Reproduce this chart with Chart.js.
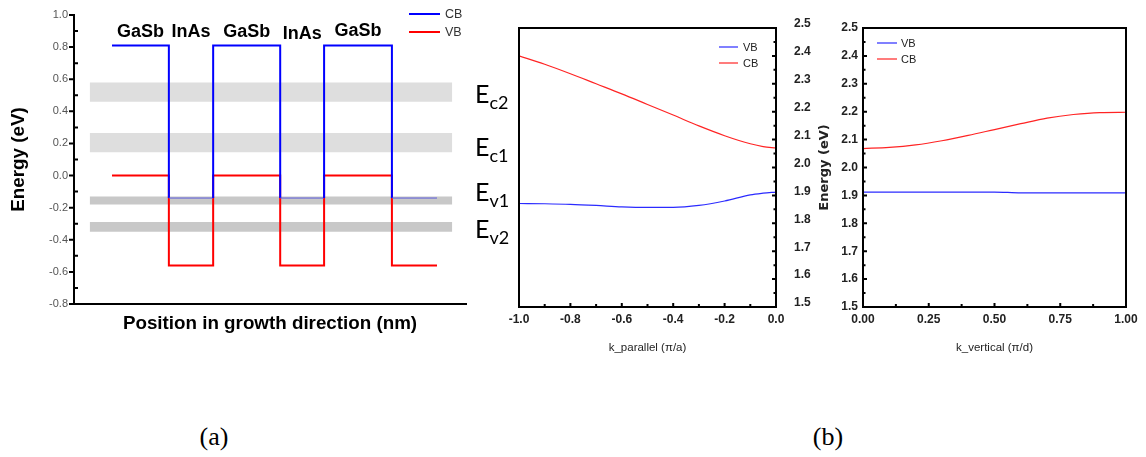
<!DOCTYPE html>
<html><head><meta charset="utf-8">
<script src="https://cdn.jsdelivr.net/npm/chart.js@4/dist/chart.umd.min.js"></script>
<style>
html,body{margin:0;padding:0;background:#fff}
body{width:1146px;height:457px;overflow:hidden;position:relative}
canvas{position:absolute;top:0}
#cA{left:0}
#cB1{left:470px}
#cB2{left:810px}
.plab{position:absolute;font-family:'Liberation Serif','Times New Roman',serif;font-size:26px;line-height:30px;color:#000;transform:translateX(-50%)}
</style></head><body>
<canvas id="cA" width="470" height="345"></canvas>
<canvas id="cB1" width="370" height="370"></canvas>
<canvas id="cB2" width="336" height="370"></canvas>
<div class="plab" style="left:214px;top:422px">(a)</div>
<div class="plab" style="left:828px;top:422px">(b)</div>
<script>
// ---------- data: panel (a) ----------
const layerLabels = ['GaSb','InAs','GaSb','InAs','GaSb',''];
const layerEdges  = [0.97, 2.42, 3.55, 5.26, 6.38, 8.11, 9.26];
const cbLevels    = [0.81, -0.14, 0.81, -0.14, 0.81, -0.14];
const vbLevels    = [0.0, -0.56, 0.0, -0.56, 0.0, -0.56];
const bandLow     = [0.46, 0.145, -0.18, -0.35];
const bandHigh    = [0.58, 0.265, -0.13, -0.29];
const bandExtent  = [0.4, 9.65];
const aYTicks     = [-0.8, -0.6, -0.4, -0.2, 0.0, 0.2, 0.4, 0.6, 0.8, 1.0];

// ---------- data: panel (b) left ----------
const kPar  = [-1.0, -0.9, -0.8, -0.7, -0.6, -0.5, -0.4, -0.3, -0.2, -0.1, -0.05, 0.0];
const vbPar = [1.871, 1.870, 1.868, 1.864, 1.859, 1.857, 1.857, 1.864, 1.880, 1.902, 1.908, 1.912];
const cbPar = [2.400, 2.370, 2.336, 2.300, 2.264, 2.226, 2.188, 2.149, 2.114, 2.085, 2.075, 2.070];
const kParTicks = [-1.0, -0.8, -0.6, -0.4, -0.2, 0.0];

// ---------- data: panel (b) right ----------
const kVer  = [0.0, 0.1, 0.2, 0.3, 0.4, 0.5, 0.6, 0.7, 0.8, 0.9, 1.0];
const vbVer = [1.912, 1.912, 1.912, 1.912, 1.912, 1.912, 1.909, 1.909, 1.909, 1.909, 1.909];
const cbVer = [2.068, 2.072, 2.081, 2.096, 2.115, 2.136, 2.157, 2.177, 2.190, 2.197, 2.198];
const kVerTicks = [0.0, 0.25, 0.5, 0.75, 1.0];
const eTicks = [1.5, 1.6, 1.7, 1.8, 1.9, 2.0, 2.1, 2.2, 2.3, 2.4, 2.5];
const levelNames = ['c2', 'c1', 'v1', 'v2'];

// ---------- styles ----------
const bandColors = ['#dedede', '#dedede', '#c8c8c8', '#c8c8c8'];
const SANS = "'Liberation Sans',Arial,sans-serif";

const mids = a => a.slice(1).map((v, i) => (v + a[i]) / 2);
const toXY = (xs, ys) => xs.map((x, i) => ({x, y: ys[i]}));
function steps(levels) {
  const pts = [];
  levels.forEach((v, i) => { pts.push({x: layerEdges[i], y: v}, {x: layerEdges[i + 1], y: v}); });
  return pts;
}
const setTicks = arr => s => { s.ticks = arr.map(v => ({value: v})); };

// ---------- plugins ----------
const axisDeco = {
  id: 'axisDeco',
  afterDatasetsDraw(chart, args, o) {
    const {ctx, chartArea: a, scales} = chart;
    ctx.save();
    ctx.strokeStyle = '#000';
    ctx.lineWidth = o.frameWidth || 2;
    ctx.lineCap = 'square';
    ctx.beginPath();
    (o.frame || []).forEach(s => {
      if (s === 'left')   { ctx.moveTo(a.left, a.top);  ctx.lineTo(a.left, a.bottom); }
      if (s === 'right')  { ctx.moveTo(a.right, a.top); ctx.lineTo(a.right, a.bottom); }
      if (s === 'top')    { ctx.moveTo(a.left, a.top);  ctx.lineTo(a.right, a.top); }
      if (s === 'bottom') { ctx.moveTo(a.left, a.bottom); ctx.lineTo(a.right, a.bottom); }
    });
    ctx.stroke();
    ctx.lineCap = 'butt';
    (o.ticks || []).forEach(t => {
      const sc = scales[t.scale];
      ctx.lineWidth = t.width || 1.5;
      ctx.beginPath();
      t.values.forEach(v => {
        const p = sc.getPixelForValue(v);
        if (t.edge === 'left')   { ctx.moveTo(a.left, p);  ctx.lineTo(a.left + t.dir * t.len, p); }
        if (t.edge === 'right')  { ctx.moveTo(a.right, p); ctx.lineTo(a.right - t.dir * t.len, p); }
        if (t.edge === 'bottom') { ctx.moveTo(p, a.bottom); ctx.lineTo(p, a.bottom - t.dir * t.len); }
      });
      ctx.stroke();
    });
    ctx.restore();
  }
};

const miniLegend = {
  id: 'miniLegend',
  afterDraw(chart, args, o) {
    if (!o.items) return;
    const {ctx} = chart;
    ctx.save();
    ctx.font = o.font;
    ctx.textBaseline = 'middle';
    o.items.forEach((di, i) => {
      const ds = chart.data.datasets[di];
      const y = o.y + i * o.dy;
      ctx.strokeStyle = ds.borderColor;
      ctx.lineWidth = o.lineWidth;
      ctx.beginPath(); ctx.moveTo(o.x, y); ctx.lineTo(o.x + o.len, y); ctx.stroke();
      ctx.fillStyle = o.color;
      ctx.fillText(ds.label, o.x + o.len + o.gap, y + 1);
    });
    ctx.restore();
  }
};

const layerText = {
  id: 'layerText',
  afterDraw(chart, args, o) {
    if (!o.show) return;
    const {ctx, scales} = chart;
    ctx.save();
    ctx.font = o.font; ctx.fillStyle = '#000';
    ctx.textAlign = 'center'; ctx.textBaseline = 'middle';
    layerLabels.forEach((t, i) => {
      if (!t) return;
      const x = scales.x.getPixelForValue((layerEdges[i] + layerEdges[i + 1]) / 2);
      ctx.fillText(t, x, o.y[i]);
    });
    ctx.restore();
  }
};

const levelText = {
  id: 'levelText',
  afterDraw(chart, args, o) {
    if (!o.show) return;
    const {ctx} = chart;
    ctx.save();
    ctx.fillStyle = '#000'; ctx.textBaseline = 'alphabetic';
    levelNames.forEach((n, i) => {
      ctx.font = o.bigFont;
      ctx.fillText('E', o.x, o.baselines[i]);
      const w = ctx.measureText('E').width;
      ctx.font = o.subFont;
      ctx.fillText(n, o.x + w, o.baselines[i] + o.subDrop);
    });
    ctx.restore();
  }
};

Chart.register(axisDeco, miniLegend, layerText, levelText);

const baseOptions = {
  responsive: false, maintainAspectRatio: false, animation: false,
  events: [],
  elements: {point: {radius: 0}}
};
const basePlugins = {legend: {display: false}, tooltip: {enabled: false}};

// ---------- panel (a) ----------
const aDatasets = [
  {label: 'CB', data: steps(cbLevels), borderColor: '#0000ff', borderWidth: 2, fill: false,
   segment: {
     borderColor: c => (c.p0.parsed.y === c.p1.parsed.y && c.p0.parsed.y < 0) ? '#5b5bdc' : undefined,
     borderWidth: c => (c.p0.parsed.y === c.p1.parsed.y && c.p0.parsed.y < 0) ? 1 : undefined
   }},
  {label: 'VB', data: steps(vbLevels), borderColor: '#ff0000', borderWidth: 2, fill: false}
];
bandLow.forEach((lo, i) => {
  aDatasets.push({
    label: 'band' + i,
    data: bandExtent.map(x => ({x, y: bandHigh[i]})),
    fill: {value: lo}, backgroundColor: bandColors[i],
    borderColor: 'rgba(0,0,0,0)', borderWidth: 0
  });
});

new Chart(document.getElementById('cA'), {
  type: 'line',
  data: {datasets: aDatasets},
  options: {
    ...baseOptions,
    layout: {padding: {left: 0, top: 15, right: 4, bottom: 0}},
    scales: {
      x: {type: 'linear', min: 0, max: 10,
          ticks: {display: false}, grid: {display: false, drawTicks: false}, border: {display: false},
          title: {display: true, text: 'Position in growth direction (nm)', color: '#000',
                  font: {family: SANS, size: 18.8, weight: 'bold'}, padding: {top: 0, bottom: 9.7}},
          afterFit: s => { s.height = 41; }},
      y: {type: 'linear', min: -0.8, max: 1.0, afterBuildTicks: setTicks(aYTicks),
          ticks: {color: '#555', font: {family: SANS, size: 11}, padding: 6, autoSkip: false,
                  callback: v => v.toFixed(1)},
          grid: {display: false, drawTicks: false}, border: {display: false},
          title: {display: true, text: 'Energy (eV)', color: '#000',
                  font: {family: SANS, size: 18.8, weight: 'bold'}, padding: {top: 7.7, bottom: 0}},
          afterFit: s => { s.width = 74; }}
    },
    plugins: {
      ...basePlugins,
      axisDeco: {frame: ['left', 'bottom'], frameWidth: 2,
        ticks: [{scale: 'y', edge: 'left', values: aYTicks, len: 5, dir: -1, width: 2},
                {scale: 'y', edge: 'left', values: mids(aYTicks), len: 4, dir: 1, width: 2}]},
      miniLegend: {items: [0, 1], x: 409, y: 14, dy: 18, len: 31, gap: 5, lineWidth: 2,
                   font: "12.5px " + SANS, color: '#333'},
      layerText: {show: true, font: "bold 18px " + SANS, y: [32, 32, 32, 34, 31]}
    }
  }
});

// ---------- panel (b) left ----------
new Chart(document.getElementById('cB1'), {
  type: 'line',
  data: {datasets: [
    {label: 'VB', data: toXY(kPar, vbPar), borderColor: '#2b2bff', borderWidth: 1.2, fill: false, cubicInterpolationMode: 'monotone'},
    {label: 'CB', data: toXY(kPar, cbPar), borderColor: '#ff2424', borderWidth: 1.2, fill: false, cubicInterpolationMode: 'monotone'}
  ]},
  options: {
    ...baseOptions,
    layout: {padding: {left: 49, top: 28, right: 0, bottom: 0}},
    scales: {
      x: {type: 'linear', min: -1, max: 0, afterBuildTicks: setTicks(kParTicks),
          ticks: {color: '#222', font: {family: SANS, size: 12, weight: 'bold'}, padding: 5,
                  maxRotation: 0, autoSkip: false, callback: v => v.toFixed(1)},
          grid: {display: false, drawTicks: false}, border: {display: false},
          title: {display: true, text: 'k_parallel (π/a)', color: '#222',
                  font: {family: SANS, size: 11.5}, padding: {top: 0, bottom: 15}},
          afterFit: s => { s.height = 63; }},
      y: {type: 'linear', position: 'right', min: 1.5, max: 2.5, afterBuildTicks: setTicks(eTicks),
          ticks: {color: '#222', font: {family: SANS, size: 12, weight: 'bold'}, padding: 18,
                  labelOffset: -4, autoSkip: false, callback: v => v.toFixed(1)},
          grid: {display: false, drawTicks: false}, border: {display: false},
          afterFit: s => { s.width = 64; }}
    },
    plugins: {
      ...basePlugins,
      axisDeco: {frame: ['left', 'right', 'top', 'bottom'], frameWidth: 2,
        ticks: [{scale: 'y', edge: 'right', values: eTicks, len: 4, dir: 1, width: 2},
                {scale: 'y', edge: 'right', values: mids(eTicks), len: 2.5, dir: 1, width: 2},
                {scale: 'x', edge: 'bottom', values: kParTicks, len: 4, dir: 1, width: 2},
                {scale: 'x', edge: 'bottom', values: mids(kParTicks), len: 3, dir: 1, width: 2}]},
      miniLegend: {items: [0, 1], x: 249, y: 47, dy: 16, len: 19, gap: 5, lineWidth: 1.2,
                   font: "11px " + SANS, color: '#222'},
      levelText: {show: true, x: 5, baselines: [103, 156, 201, 238], subDrop: 6,
                  bigFont: "25px Lato,'Open Sans',sans-serif", subFont: "18px Lato,'Open Sans',sans-serif"}
    }
  }
});

// ---------- panel (b) right ----------
new Chart(document.getElementById('cB2'), {
  type: 'line',
  data: {datasets: [
    {label: 'VB', data: toXY(kVer, vbVer), borderColor: '#2b2bff', borderWidth: 1.2, fill: false, cubicInterpolationMode: 'monotone'},
    {label: 'CB', data: toXY(kVer, cbVer), borderColor: '#ff2424', borderWidth: 1.2, fill: false, cubicInterpolationMode: 'monotone'}
  ]},
  options: {
    ...baseOptions,
    layout: {padding: {left: 0, top: 28, right: 20, bottom: 0}},
    scales: {
      x: {type: 'linear', min: 0, max: 1, afterBuildTicks: setTicks(kVerTicks),
          ticks: {color: '#222', font: {family: SANS, size: 12, weight: 'bold'}, padding: 5,
                  maxRotation: 0, autoSkip: false, callback: v => v.toFixed(2)},
          grid: {display: false, drawTicks: false}, border: {display: false},
          title: {display: true, text: 'k_vertical (π/d)', color: '#222',
                  font: {family: SANS, size: 11.5}, padding: {top: 0, bottom: 15}},
          afterFit: s => { s.height = 63; }},
      y: {type: 'linear', min: 1.5, max: 2.5, afterBuildTicks: setTicks(eTicks),
          ticks: {color: '#222', font: {family: SANS, size: 12, weight: 'bold'}, padding: 5,
                  autoSkip: false, callback: v => v.toFixed(1)},
          grid: {display: false, drawTicks: false}, border: {display: false},
          title: {display: true, text: 'Energy (eV)', color: '#222',
                  font: {family: "'DejaVu Sans',sans-serif", size: 13, weight: 'bold'}, padding: {top: 7, bottom: 0}},
          afterFit: s => { s.width = 53; }}
    },
    plugins: {
      ...basePlugins,
      axisDeco: {frame: ['left', 'right', 'top', 'bottom'], frameWidth: 2,
        ticks: [{scale: 'y', edge: 'left', values: eTicks, len: 4, dir: 1, width: 2},
                {scale: 'y', edge: 'left', values: mids(eTicks), len: 2.5, dir: 1, width: 2},
                {scale: 'x', edge: 'bottom', values: kVerTicks, len: 4, dir: 1, width: 2},
                {scale: 'x', edge: 'bottom', values: mids(kVerTicks), len: 3, dir: 1, width: 2}]},
      miniLegend: {items: [0, 1], x: 67, y: 43, dy: 16, len: 20, gap: 4, lineWidth: 1.2,
                   font: "11px " + SANS, color: '#222'}
    }
  }
});
</script>
</body></html>
